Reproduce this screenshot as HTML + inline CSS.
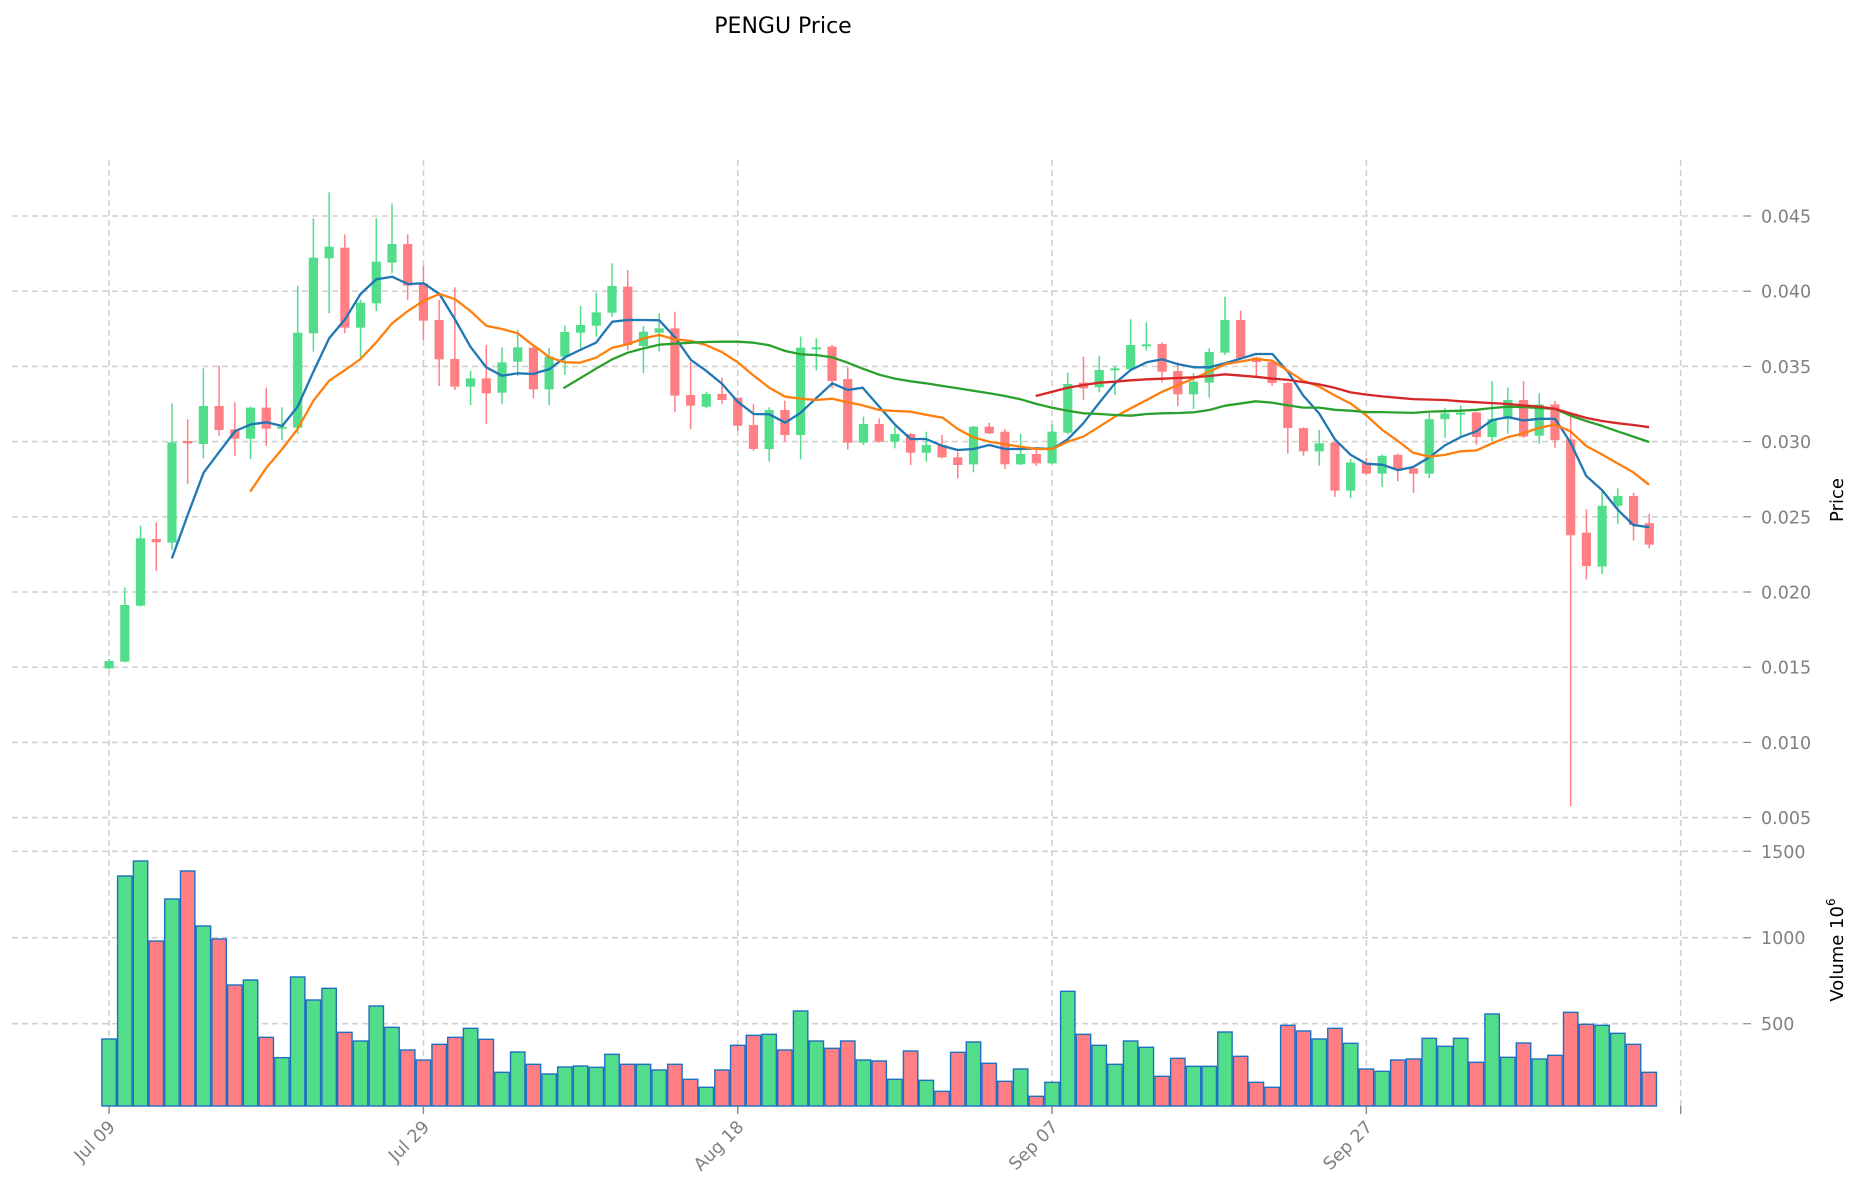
<!DOCTYPE html>
<html><head><meta charset="utf-8"><style>
html,body{margin:0;padding:0;background:#fff;}
svg{display:block;font-family:"DejaVu Sans","Liberation Sans",sans-serif;}
</style></head><body>
<svg id="s" width="1860" height="1202" viewBox="0 0 1860 1202" xmlns="http://www.w3.org/2000/svg">
<rect width="1860" height="1202" fill="#fff"/>
<text x="783" y="33" font-size="22" text-anchor="middle" fill="#000">PENGU Price</text>
<g id="grid"></g><g id="vol"></g><g id="cdl"></g><g id="ma"></g><g id="axes"></g>
</svg>
<script>
var NS="http://www.w3.org/2000/svg";
function el(p,t,a,txt){var e=document.createElementNS(NS,t);for(var k in a)e.setAttribute(k,a[k]);if(txt!==undefined)e.textContent=txt;document.getElementById(p).appendChild(e);return e;}
var G="#52dd8a",R="#ff7f84";
function X(i){return 109.1+15.716*i;}
var py=[];for(var k=0;k<9;k++){var y=216+k*75.2;py.push(y);
 el("grid","line",{x1:12,x2:1744,y1:y,y2:y,stroke:"#d0d0d0","stroke-width":1.6,"stroke-dasharray":"6,4"});
 el("axes","line",{x1:1744,x2:1751,y1:y,y2:y,stroke:"#888","stroke-width":1.2});
 el("axes","text",{x:1761,y:y+6.5,"font-size":17.5,fill:"#808080"},(0.045-k*0.005).toFixed(3));}
var vy=[[1500,851.3],[1000,937.7],[500,1023.7]];
vy.forEach(function(v){el("grid","line",{x1:12,x2:1744,y1:v[1],y2:v[1],stroke:"#d0d0d0","stroke-width":1.6,"stroke-dasharray":"6,4"});
 el("axes","line",{x1:1744,x2:1751,y1:v[1],y2:v[1],stroke:"#888","stroke-width":1.2});
 el("axes","text",{x:1761,y:v[1]+6.5,"font-size":17.5,fill:"#808080"},""+v[0]);});
var labs=["Jul 09","Jul 29","Aug 18","Sep 07","Sep 27",""];
for(var j=0;j<6;j++){var x=X(j*20);
 el("grid","line",{x1:x,x2:x,y1:160,y2:1106,stroke:"#d0d0d0","stroke-width":1.6,"stroke-dasharray":"6,4"});
 el("axes","line",{x1:x,x2:x,y1:1106,y2:1114,stroke:"#888","stroke-width":1.4});
 if(labs[j])el("axes","text",{x:x+7,y:1128,"font-size":17.5,fill:"#808080","text-anchor":"end",transform:"rotate(-45 "+(x+7)+" 1128)"},labs[j]);}
el("axes","text",{x:1843,y:500,"font-size":18,fill:"#000","text-anchor":"middle",transform:"rotate(-90 1843 500)"},"Price");
var tv=el("axes","text",{x:1843,y:950,"font-size":18,fill:"#000","text-anchor":"middle",transform:"rotate(-90 1843 950)"},"Volume  10");
var ts=document.createElementNS(NS,"tspan");ts.setAttribute("font-size","12");ts.setAttribute("dy","-8");ts.textContent="6";tv.appendChild(ts);
var c1=[[G,1533,1555,1527,1558],[G,1365,1535,1312,1537],[G,1165,1367,1127,1370],[R,1167,1177,1117,1263],[G,877,1178,760,1200],[R,873,880,808,1002],[G,768,882,655,925],[R,768,840,647,857],[R,838,866,757,918],[G,773,866,770,928],[R,773,836,713,888],[G,830,835,772,870],[G,548,833,407,852],[G,323,550,205,605],[G,290,325,127,490],[R,293,533,253,550],[G,458,533,450,623],[G,335,460,205,483],[G,282,338,160,370],[R,282,407,253,450],[R,400,512,347,570],[R,510,628,450,708],[R,627,710,412,720],[G,685,710,662,765],[R,685,730,585,822],[G,637,728,592,762],[G,592,635,540,678],[R,593,718,590,745],[G,620,718,595,765],[G,546,620,527,675],[G,525,548,468,595],[G,487,527,428,560],[G,408,488,340,500]];
var c4=[[R,110,285,60,300],[G,245,288,228,370],[G,235,248,190,305],[R,235,437,185,487],[R,435,467,335,537],[G,432,470,425,475],[R,432,450,383,462],[R,443,527,443,543],[R,525,597,462,602],[G,480,597,472,635],[R,480,555,452,575],[G,293,555,260,628],[G,292,295,265,362],[R,290,393,285,415],[R,387,578,352,598],[G,522,578,500,585],[R,522,575,505,578],[G,552,575,530,595],[R,552,608,550,645],[G,585,608,545,635],[R,585,622,555,625],[R,622,645,605,685],[G,530,643,528,667],[R,530,550,518,552],[R,545,643,537,657],[G,612,643,552,645],[R,612,640,600,648],[G,545,640,523,642],[G,402,548,368,552],[R,398,415,320,450],[G,360,412,317,427],[G,355,360,348,435],[G,285,358,208,360],[G,283,287,217,302],[R,282,365,277,397],[R,363,433,337,468],[G,395,433,370,477],[G,306,398,295,443],[G,210,308,140,315],[R,210,325,182,328]];
var c2=[[R,465,475,463,510],[R,475,522,473,528],[R,522,623,520,680],[R,623,675,621,685],[G,657,675,627,707],[R,655,763,653,777],[G,700,763,692,780],[R,700,725,690,727],[G,685,725,682,755],[R,683,715,680,742],[R,713,725,711,768],[G,603,725,588,735],[G,590,603,578,645],[G,588,593,572,640],[R,588,643,586,660],[G,603,643,518,652],[G,560,603,532,635],[R,560,642,518,645],[G,570,640,545,658],[R,570,650,562,667],[R,648,863,590,1470],[R,857,932,805,962],[G,797,933,765,950],[G,775,797,758,838],[R,775,840,768,875],[R,836,884,815,892]];
function drawC(arr,i0,fy){arr.forEach(function(c,k){var x=X(i0+k);var bt=fy(c[1]),bb=fy(c[2]);if(bb-bt<2){bb=bt+2;}
 el("cdl","line",{x1:x,x2:x,y1:fy(c[3]),y2:fy(c[4]),stroke:c[0],"stroke-width":1.5});
 el("cdl","rect",{x:x-4.6,y:bt,width:9.2,height:bb-bt,fill:c[0]});});}
drawC(c1,0,function(z){return 150+z/3;});
drawC(c4,33,function(z){return 250+z/3;});
drawC(c2,73,function(z){return 150+z/2.24;});
var v3=[[G,657],[G,168],[G,123],[R,363],[G,237],[R,153],[G,318],[R,357],[R,495],[G,480],[R,652],[G,713],[G,471],[G,540],[G,505],[R,637],[G,663],[G,558],[G,622],[R,690],[R,720],[R,673],[R,652],[G,625],[R,658],[G,757],[G,696],[R,733],[G,762],[G,741],[G,738],[G,742],[G,703],[R,733],[G,733],[G,750],[R,733],[R,778],[G,802],[R,750],[R,676],[R,646],[G,643],[R,690],[G,573],[G,663],[R,685],[R,663],[G,720],[R,723],[G,778],[R,693],[G,781]];
var v6=[[R,814],[R,697],[G,666],[R,730],[R,784],[G,747],[R,829],[G,787],[G,514],[R,643],[G,676],[G,733],[G,663],[G,682],[R,769],[R,715],[G,739],[G,739],[G,636],[R,709],[R,787],[R,802],[R,616],[R,633],[G,657],[R,625],[G,670],[R,747],[G,754],[R,720],[R,717],[G,655],[G,679],[G,655],[R,727],[G,582],[G,712],[R,669],[G,717],[R,706],[R,577],[R,613],[G,616],[G,640],[R,673],[R,757]];
var vv=v3.concat(v6);
vv.forEach(function(v,i){var x=X(i);var t=820+v[1]/3;
 el("vol","rect",{x:x-7.2,y:t,width:14.4,height:1106-t,fill:v[0],stroke:"#1f6fc0","stroke-width":1.4});});
function pts(list){var s="";list.forEach(function(p){s+=p[0].toFixed(1)+","+p[1].toFixed(1)+" ";});return s;}
function conv(a,fx,fy,lo,hi){var o=[];a.forEach(function(p){var x=fx(p[0]);if(x>=lo&&x<hi)o.push([x,fy(p[1])]);});return o;}
var f1x=function(z){return z/2.53;},f1y=function(z){return 150+z/3;};
var f4x=function(z){return 540+z/3;},f5x=function(z){return 940+z/3;},f45y=function(z){return 250+z/3;};
var f2x=function(z){return 1240+z/2.53;},f2y=function(z){return 150+z/2.24;};
function line(a1,a4,a5,a2,col){var p=conv(a1,f1x,f1y,0,540).concat(conv(a4,f4x,f45y,540,940),conv(a5,f5x,f45y,940,1241),conv(a2,f2x,f2y,1241,2000));
 el("ma","polyline",{points:pts(p),fill:"none",stroke:col,"stroke-width":2.3,"stroke-linejoin":"round"});}
line([[435,1225],[475,1095],[515,968],[555,905],[595,843],[635,823],[674,817],[714,828],[753,770],[793,665],[833,565],[873,508],[912,432],[952,388],[992,380],[1032,402],[1072,400],[1112,432],[1152,510],[1190,590],[1230,652],[1270,677],[1310,670],[1350,672]],
 [[0,365],[28,358],[75,322],[120,300],[168,278],[217,215],[263,210],[312,210],[358,211],[405,262],[453,330],[498,362],[547,402],[593,455],[641,492],[688,493],[736,518],[782,488],[828,445],[877,400],[923,420],[968,413],[1018,470],[1066,525],[1112,567],[1158,567],[1207,590],[1255,603]],
 [[8,588],[53,600],[100,597],[148,585],[195,597],[242,597],[290,595],[337,597],[383,568],[430,520],[478,458],[525,400],[572,360],[620,337],[667,328],[715,343],[762,352],[808,352],[855,340],[903,330],[950,313],[997,313],[1043,370],[1090,440],[1138,495],[1185,570],[1233,618]],
 [[0,468],[40,457],[82,457],[122,498],[160,550],[200,590],[240,648],[280,683],[320,703],[360,705],[400,717],[438,710],[480,688],[518,662],[558,643],[598,630],[638,605],[678,598],[717,606],[757,602],[797,602],[836,655],[876,730],[916,762],[955,805],[995,840],[1035,845]],"#1f77b4");
line([[633,1025],[674,953],[714,897],[753,837],[793,752],[833,692],[873,660],[912,627],[952,577],[992,520],[1032,483],[1072,452],[1112,432],[1152,448],[1190,483],[1230,527],[1270,537],[1310,550],[1350,587]],
 [[0,300],[28,322],[75,337],[120,338],[168,323],[217,293],[263,283],[312,265],[358,255],[405,268],[453,273],[498,285],[547,307],[593,337],[641,377],[688,413],[736,440],[782,446],[828,450],[877,446],[923,457],[968,466],[1018,480],[1066,483],[1112,485],[1158,494],[1207,500],[1255,540]],
 [[8,503],[53,537],[100,562],[148,575],[195,583],[242,590],[290,597],[337,597],[383,575],[430,560],[478,530],[525,500],[572,475],[620,450],[667,425],[715,405],[762,385],[808,365],[855,343],[903,332],[950,325],[997,330],[1043,358],[1090,390],[1138,412],[1185,440],[1233,462]],
 [[0,470],[40,468],[82,472],[122,495],[160,517],[200,530],[240,550],[280,568],[320,595],[360,627],[400,652],[438,678],[480,687],[518,683],[558,675],[598,673],[638,657],[678,643],[717,635],[757,622],[797,615],[836,630],[876,663],[916,682],[955,702],[995,722],[1035,750]],"#ff7f0e");
line([],
 [[70,415],[120,385],[168,356],[217,328],[263,308],[312,295],[358,284],[405,281],[453,278],[498,276],[547,275],[593,275],[641,278],[688,286],[736,303],[782,313],[828,315],[877,322],[923,338],[968,356],[1018,374],[1066,386],[1112,394],[1158,400],[1207,408],[1255,415]],
 [[8,408],[53,415],[100,422],[148,430],[195,438],[242,448],[290,462],[337,473],[383,482],[430,490],[478,492],[525,495],[572,497],[620,492],[667,490],[715,489],[762,487],[808,480],[855,467],[903,461],[950,455],[997,459],[1043,466],[1090,473],[1138,474],[1185,479],[1233,481]],
 [[0,568],[40,563],[82,566],[122,572],[160,577],[200,577],[240,582],[280,584],[320,587],[360,587],[400,588],[438,589],[480,586],[518,585],[558,584],[598,582],[638,578],[678,575],[717,576],[757,578],[797,580],[836,595],[876,607],[916,618],[955,630],[995,642],[1035,654]],"#2ca02c");
line([],[],
 [[287,438],[337,425],[383,413],[430,405],[478,398],[525,395],[572,391],[620,388],[667,386],[715,384],[762,382],[808,378],[855,373],[903,374],[950,380],[997,388],[1043,395],[1090,402],[1138,415],[1185,422],[1233,428]],
 [[0,503],[40,508],[82,512],[122,515],[160,520],[200,525],[240,533],[280,543],[320,548],[360,552],[400,555],[438,558],[480,559],[518,560],[558,563],[598,565],[638,567],[678,569],[717,572],[757,575],[797,580],[836,590],[876,600],[916,607],[955,612],[995,616],[1035,621]],"#d62728");
</script>
</body></html>
